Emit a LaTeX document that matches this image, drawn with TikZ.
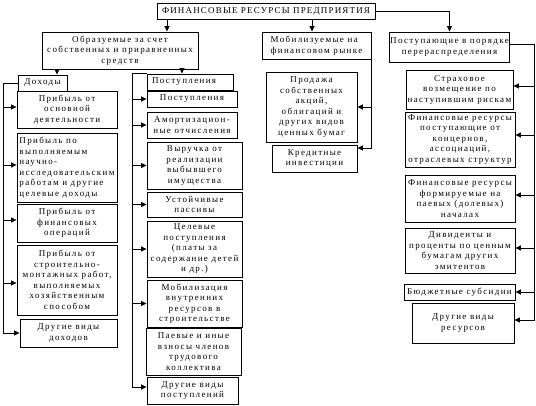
\documentclass[tikz,border=0pt]{standalone}
\usepackage{fontspec}
\setmainfont{Liberation Serif}[LetterSpace=15]
\newfontfamily\topfont{Liberation Serif}[LetterSpace=13]
\usetikzlibrary{arrows.meta}
\newcommand\fs{\fontsize{9}{10.5}\selectfont}
\newcommand\zbox[7][]{\node[box,#1,minimum width={(#4-#2)*1pt},minimum height={(#5-#3)*1pt}] (#6) at ({(#2+#4)/2},{(#3+#5)/2}) {#7};}
\begin{document}
\begin{tikzpicture}[x=1pt,y=-1pt,
  box/.style={draw,line width=0.9pt,inner sep=1pt,align=center,font=\fs},
  arr/.style={line width=0.8pt,-{Triangle[length=5.5pt,width=5pt]}},
  ln/.style={line width=0.8pt}]
\path[fill=white,use as bounding box] (0,0) rectangle (536,406);
% top level
\zbox[font=\topfont\fs]{157}{3}{375}{19}{top}{ФИНАНСОВЫЕ РЕСУРСЫ ПРЕДПРИЯТИЯ}
\zbox{42}{32}{198}{69}{obr}{Образуемые за счет\\собственных и приравненных\\средств}
\zbox[align=left]{262}{32}{371}{59}{mob}{Мобилизуемые на\\финансовом рынке}
\zbox{391}{32}{508}{62}{post}{Поступающие в порядке\\перераспределения}
% left column
\zbox[align=left]{18}{75}{67}{91}{doh}{Доходы}
\zbox{17}{91}{117}{128}{l1}{Прибыль от\\основной\\деятельности}
\zbox[align=left]{17}{133}{117}{202}{l2}{Прибыль по\\выполняемым\\научно-\\исследовательским\\работам и другие\\целевые доходы}
\zbox{17}{204}{117}{242}{l3}{Прибыль от\\финансовых\\операций}
\zbox{17}{245}{117}{315}{l4}{Прибыль от\\строительно-\\монтажных работ,\\выполняемых\\хозяйственным\\способом}
\zbox{20}{319}{117}{347}{l5}{Другие виды\\доходов}
% middle-left column
\zbox[align=left,text width=76pt]{147}{74}{233}{90}{ph}{Поступления}
\zbox{147}{91}{237}{107}{m1}{Поступления}
\zbox{147}{112}{237}{138}{m2}{Амортизацион-\\ные отчисления}
\zbox{147}{142}{242}{189}{m3}{Выручка от\\реализации\\выбывшего\\имущества}
\zbox{147}{192}{242}{217}{m4}{Устойчивые\\пассивы}
\zbox{147}{221}{242}{277}{m5}{Целевые\\поступления\\(платы за\\содержание детей\\и др.)}
\zbox{147}{280}{242}{327}{m6}{Мобилизация\\внутренних\\ресурсов в\\строительстве}
\zbox{146}{328}{241}{375}{m7}{Паевые и иные\\взносы членов\\трудового\\коллектива}
\zbox{147}{377}{238}{404}{m8}{Другие виды\\поступлений}
% middle-right column
\zbox{266}{72}{357}{142}{s1}{Продажа\\собственных\\акций,\\облигаций и\\других видов\\ценных бумаг}
\zbox{272}{145}{357}{172}{s2}{Кредитные\\инвестиции}
% right column
\zbox{406}{70}{513}{109}{r1}{Страховое\\возмещение по\\наступившим рискам}
\zbox{405}{112}{515}{167}{r2}{Финансовые ресурсы\\поступающие от\\концернов,\\ассоциаций,\\отраслевых структур}
\zbox{405}{175}{515}{222}{r3}{Финансовые ресурсы\\формируемые на\\паевых (долевых)\\началах}
\zbox{405}{228}{515}{273}{r4}{Дивиденты и\\проценты по ценным\\бумагам других\\эмитентов}
\zbox{404}{284}{515}{300}{r5}{Бюджетные субсидии}
\zbox{412}{303}{514}{343}{r6}{Другие виды\\ресурсов}
% helper coordinates
\coordinate (a1) at (167,0);
\coordinate (a2) at (312,0);
\coordinate (a3) at (57,0);
\coordinate (a4) at (182,0);
\coordinate (sL) at (3,0);
\coordinate (sM) at (132,0);
\coordinate (sR) at (534,0);
% top connectors
\draw[arr] (a1 |- top.south) -- (a1 |- obr.north);
\draw[arr] (a2 |- top.south) -- (a2 |- mob.north);
\draw[arr] (top.east) -| (post.north);
\draw[arr] (a3 |- obr.south) -- (a3 |- doh.north);
\draw[arr] (a4 |- obr.south) -- (a4 |- ph.north);
% left spine
\draw[arr] (doh.west) -| (sL |- l5.west) -- (l5.west);
\foreach \n/\s in {l1/2.5,l2/2.5,l3/3,l4/-3}{
  \path ([yshift=\s pt]\n.west) coordinate (tp);
  \draw[arr] (sL |- tp) -- (tp);}
% middle-left spine
\path ([yshift=3.5pt]m8.west) coordinate (m8p);
\draw[arr] (ph.north west) -| (sM |- m8p) -- (m8p);
\foreach \n in {m1,m2,m3,m4,m5,m6}
  \draw[arr] (sM |- \n.west) -- (\n.west);
% middle-right spine
\path ([yshift=10.5pt]s2.east) coordinate (s2p);
\draw[arr] (mob.south east) |- (s2p);
\draw[arr] (mob.south east |- s1.east) -- (s1.east);
% right spine
\path ([yshift=3pt]post.east) coordinate (pp);
\path ([yshift=3pt]r6.east) coordinate (r6p);
\draw[arr] (pp) -| (sR |- r6p) -- (r6p);
\foreach \n/\s in {r1/3.5,r2/4.5,r3/3.5,r4/2.5,r5/0}{
  \path ([yshift=\s pt]\n.east) coordinate (tp);
  \draw[arr] (sR |- tp) -- (tp);}
\end{tikzpicture}
\end{document}
